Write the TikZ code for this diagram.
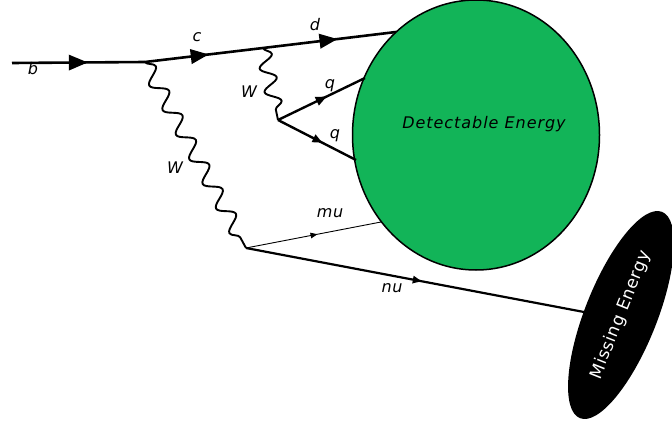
\documentclass[tikz,border=0pt]{standalone}
\usepackage{fontspec}
\setmainfont{DejaVu Sans}
\usetikzlibrary{shapes.geometric,decorations.pathmorphing,decorations.markings,arrows.meta}
\definecolor{detgreen}{RGB}{18,180,88}
\tikzset{
  fermion/.style={line width=2.6pt},
  thinf/.style={line width=0.9pt},
  boson/.style={line width=1.9pt,line join=round,decorate,decoration={snake,segment length=#1,amplitude=7.5pt}},
  midarrow/.style 2 args={postaction={decorate},decoration={markings,
     mark=at position #1 with {\arrow{Triangle[length=#2,width=0.8*#2]}}}},
  lbl/.style={font=\fontsize{16}{18}\selectfont\itshape\addfontfeature{LetterSpace=4},inner sep=0pt},
}
\begin{document}
\begin{tikzpicture}[x=1pt,y=-1pt]
\useasboundingbox[fill=white] (0,0) rectangle (672,423);
% blobs
\node[ellipse,draw,line width=1.5pt,fill=detgreen,minimum width=247pt,minimum height=270pt,inner sep=0pt] (det) at (476,135) {};
\node[font=\fontsize{16}{18}\selectfont\itshape\addfontfeature{LetterSpace=6}] (dettext) at (484,124) {Detectable Energy};
\node[ellipse,fill=black,minimum width=222pt,minimum height=72pt,inner sep=0pt,rotate=68.3,
      text=white,font=\fontsize{17}{19}\selectfont\addfontfeature{LetterSpace=4}] (miss) at (621,315) {\raisebox{-2pt}{Missing Energy}};
% vertices and ends
\coordinate (bstart) at (12,63);
\coordinate (v1) at (145,62);
\coordinate (v2) at (263,48);
\coordinate (dend) at (396,32);
\coordinate (v3) at (278,120);
\coordinate (q1end) at (365,78);
\coordinate (q2end) at (356,160);
\coordinate (v4) at (246,248);
\coordinate (muend) at (381,222);
\coordinate (nuend) at (584,312);
% fermion lines
\draw[fermion,midarrow={0.57}{19pt}] (bstart) -- (v1);
\draw[fermion,midarrow={0.54}{18pt}] (v1) -- (v2);
\draw[fermion,midarrow={0.56}{18pt}] (v2) -- (dend);
\draw[fermion,line width=2.4pt,midarrow={0.56}{11pt}] (v3) -- (q1end);
\draw[fermion,line width=2.4pt,midarrow={0.57}{10pt}] (v3) -- (q2end);
\draw[thinf,midarrow={0.53}{7pt}] (v4) -- (muend);
\draw[fermion,line width=2.2pt,midarrow={0.52}{9pt}] (v4) -- (nuend);
% bosons
\draw[boson=28pt] (v1) -- (v4);
\draw[boson=24pt] (v2) -- (v3);
% labels
\node[lbl] (lb) at (33,69) {b};
\node[lbl] (lc) at (197,37) {c};
\node[lbl] (ld) at (315,25) {d};
\node[lbl] (lw1) at (249,92) {W};
\node[lbl] (lq1) at (330,86) {q};
\node[lbl] (lq2) at (335,136) {q};
\node[lbl] (lw2) at (175,168) {W};
\node[lbl] (lmu) at (330,213) {mu};
\node[lbl] (lnu) at (392,288) {nu};
\end{tikzpicture}
\end{document}
